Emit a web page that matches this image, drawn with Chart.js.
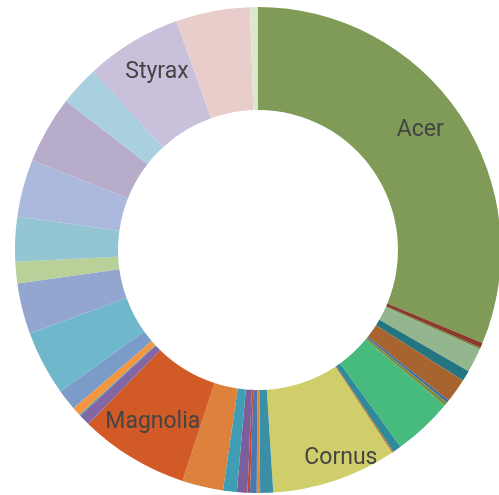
<!DOCTYPE html>
<html>
<head>
<meta charset="utf-8">
<script src="https://cdn.jsdelivr.net/npm/chart.js@4.4.1/dist/chart.umd.min.js"></script>
<style>
  html, body { margin: 0; padding: 0; background: #fff; overflow: hidden; }
  #wrap { position: absolute; left: 15px; top: 7px; width: 486px; height: 486px; }
</style>
</head>
<body>
<div id="wrap"><canvas id="treeChart"></canvas></div>
<script>
// Street tree genera, in order around the ring
const genera = [
    "Acer", "Aesculus", "Ailanthus", "Amelanchier", "Betula", "Carpinus",
    "Catalpa", "Celtis", "Cercidiphyllum", "Cercis", "Cladrastis", "Cornus",
    "Crataegus", "Fagus", "Fraxinus", "Ginkgo", "Gleditsia", "Gymnocladus",
    "Koelreuteria", "Magnolia", "Malus", "Metasequoia", "Nyssa", "Ostrya",
    "Parrotia", "Platanus", "Prunus", "Pyrus", "Quercus", "Robinia",
    "Sophora", "Styrax", "Syringa", "Zelkova"
];

// Share of trees per genus (out of 360)
const counts = [
    112.5, 1.2, 0.4, 5.8, 2.6, 5.8,
    0.6, 0.9, 14.3, 2.0, 0.4, 29.9,
    3.1, 0.8, 1.6, 0.6, 2.5, 3.3,
    9.8, 26.2, 2.7, 0.3, 2.1, 5.0,
    15.5, 12.2, 5.1, 10.7, 13.8, 16.1,
    9.5, 23.1, 17.7, 1.9
];

const colors = [
    "#7f9b57", "#8b3a2e", "#6f8a3e", "#93b68e", "#237582", "#a8642e",
    "#3d6aa6", "#789040", "#47bb7e", "#2f8a9a", "#b5743a", "#d0ce6b",
    "#3a8fa7", "#e08a3c", "#4a78b0", "#c0453a", "#7c5e9a", "#3f9db4",
    "#dc823c", "#d25a27", "#8366a4", "#4aa0b8", "#f4953f", "#7b9bc9",
    "#6fb8cc", "#92a6d0", "#b9d098", "#93c5d2", "#aab9dc", "#b7adcb",
    "#a8d0de", "#c9c1db", "#e8cdca", "#dde7d0"
];

// Genera that get a name on the ring, with a small nudge from the slice middle
const shownLabels = ["Acer", "Cornus", "Magnolia", "Styrax"];
const labelNudge = [[3, -13], [22, 27], [-6, 8], [-2, -14]];

const sliceLabels = {
    id: "sliceLabels",
    afterDatasetsDraw(chart) {
        const ctx = chart.ctx;
        const meta = chart.getDatasetMeta(0);
        ctx.save();
        ctx.font = "23px Roboto";
        ctx.fillStyle = "#444444";
        ctx.textAlign = "center";
        ctx.textBaseline = "middle";
        shownLabels.forEach((name, k) => {
            const arc = meta.data[genera.indexOf(name)];
            const p = arc.getProps(["x", "y", "startAngle", "endAngle", "innerRadius", "outerRadius"], true);
            const mid = (p.startAngle + p.endAngle) / 2;
            const r = (p.innerRadius + p.outerRadius) / 2;
            const x = p.x + Math.cos(mid) * r + labelNudge[k][0];
            const y = p.y + Math.sin(mid) * r + labelNudge[k][1];
            ctx.fillText(name, x, y);
        });
        ctx.restore();
    }
};

new Chart(document.getElementById("treeChart"), {
    type: "doughnut",
    data: {
        labels: genera,
        datasets: [{
            data: counts,
            backgroundColor: colors,
            borderWidth: 0
        }]
    },
    options: {
        responsive: true,
        maintainAspectRatio: false,
        animation: false,
        cutout: "57.6%",
        layout: { padding: 0 },
        plugins: {
            legend: { display: false },
            tooltip: { enabled: false }
        }
    },
    plugins: [sliceLabels]
});
</script>
</body>
</html>
